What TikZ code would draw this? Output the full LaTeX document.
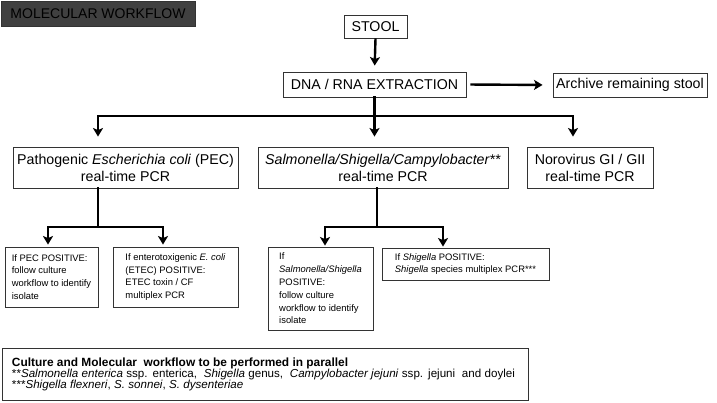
\documentclass[tikz,border=0pt]{standalone}
\usepackage{fontspec}
\setmainfont{Liberation Sans}
\usetikzlibrary{arrows.meta}
\definecolor{boxline}{HTML}{333333}
\definecolor{titlefill}{HTML}{404040}
\tikzset{
  bx/.style={draw=boxline, line width=0.9pt, fill=white, inner sep=0pt, align=center},
  bigtxt/.style={font=\fontsize{14.2}{17}\selectfont},
  smalltxt/.style={font=\fontsize{9.4}{12.8}\selectfont, align=left},
  conn/.style={line width=2.4pt, line cap=rect, line join=miter},
  arr/.style={line width=2.4pt, line cap=butt, -{Stealth[length=8.5pt,width=10pt,inset=2pt]}},
}
\begin{document}
\begin{tikzpicture}[x=1pt,y=-1pt]
\useasboundingbox (0,0) rectangle (717,402);
\fill[white] (0,0) rectangle (717,402);

% title
\node[bx, fill=titlefill, draw=black!80, text=black, minimum width=194pt, minimum height=25pt, font=\fontsize{14}{17}\selectfont] (title) at (98,13.5) {MOLECULAR WORKFLOW};

% main boxes
\node[bx, bigtxt, minimum width=63pt, minimum height=23pt] (stool) at (375.5,26.5) {STOOL};
\node[bx, bigtxt, minimum width=183pt, minimum height=25pt] (dna) at (374.5,84.5) {DNA / RNA EXTRACTION};
\node[bx, bigtxt, minimum width=154pt, minimum height=24pt] (archive) at (630,85) {Archive remaining stool};

\node[bx, bigtxt, minimum width=225pt, minimum height=41pt] (pec) at (125.5,167.5) {Pathogenic \textit{Escherichia coli} (PEC)\\real-time PCR};
\node[bx, bigtxt, minimum width=250pt, minimum height=41pt] (sal) at (383,167.5) {\textit{Salmonella/Shigella/Campylobacter**}\\real-time PCR};
\node[bx, bigtxt, minimum width=126pt, minimum height=41pt] (noro) at (590,167.5) {Norovirus GI / GII\\real-time PCR};

% small boxes
\node[bx, smalltxt, minimum width=93pt, minimum height=60pt] (pecpos) at (51.5,277) {If PEC POSITIVE:\\follow culture\\workflow to identify\\isolate};
\node[bx, smalltxt, minimum width=125pt, minimum height=60pt] (etec) at (175.5,277) {If enterotoxigenic \textit{E. coli}\\(ETEC) POSITIVE:\\ETEC toxin / CF\\multiplex PCR};
\node[bx, smalltxt, minimum width=105pt, minimum height=83pt] (salpos) at (320.5,288.5) {If\\\textit{Salmonella/Shigella}\\POSITIVE:\\follow culture\\workflow to identify\\isolate};
\node[bx, smalltxt, minimum width=167pt, minimum height=32pt] (shig) at (465.5,264) {If \textit{Shigella} POSITIVE:\\\textit{Shigella} species multiplex PCR***};

% note box
\node[bx, align=left, minimum width=526pt, minimum height=52pt, text width=506pt] (note) at (265,374)
{{\fontsize{11.9}{15.5}\selectfont\bfseries Culture and Molecular\ \ workflow to be performed in parallel}\\[-1pt]
{\fontsize{11.6}{14}\selectfont **\textit{Salmonella enterica} ssp. enterica,\ \ \textit{Shigella} genus,\ \ \textit{Campylobacter jejuni} ssp. jejuni\ \ and doylei}\\[-1pt]
{\fontsize{11.6}{14}\selectfont ***\textit{Shigella flexneri}, \textit{S. sonnei}, \textit{S. dysenteriae}}};

% connectors
\draw[arr, shorten >=6pt] (stool.south) -- (dna.north);
\draw[arr, shorten <=4pt, shorten >=10pt] (dna.east) -- (archive.west);

\coordinate (j1) at (98,116);
\coordinate (j3) at (573,116);
\draw[conn] (dna.south) -- (dna.south |- j1);
\draw[conn] (j1) -- (j3);
\draw[arr, shorten >=10pt] (j1) -- (j1 |- pec.north);
\draw[arr, shorten >=10pt] (dna.south |- j1) -- (dna.south |- sal.north);
\draw[arr, shorten >=10pt] (j3) -- (j3 |- noro.north);

\coordinate (p0) at (98,188);
\coordinate (p1) at (98,227);
\coordinate (pl) at (48,227);
\coordinate (pr) at (163,227);
\draw[conn] (p0) -- (p1);
\draw[conn] (pl) -- (pr);
\draw[arr, shorten >=2pt] (pl) -- (pl |- pecpos.north);
\draw[arr, shorten >=2pt] (pr) -- (pr |- etec.north);

\coordinate (s0) at (377,188);
\coordinate (s1) at (377,227);
\coordinate (sl) at (325,227);
\coordinate (sr) at (443,227);
\draw[conn] (s0) -- (s1);
\draw[conn] (sl) -- (sr);
\draw[arr, shorten >=1pt] (sl) -- (sl |- salpos.north);
\draw[arr, shorten >=1pt] (sr) -- (sr |- shig.north);
\end{tikzpicture}
\end{document}
